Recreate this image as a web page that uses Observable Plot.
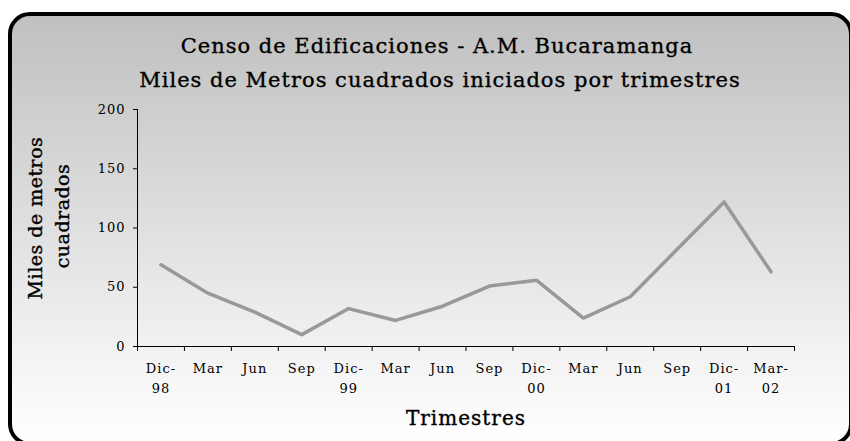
<!DOCTYPE html>
<html>
<head>
<meta charset="utf-8">
<script src="https://cdn.jsdelivr.net/npm/d3@7"></script>
<script src="https://cdn.jsdelivr.net/npm/@observablehq/plot@0.6"></script>
<style>
  html, body { margin: 0; padding: 0; background: #ffffff; }
  #wrap { position: relative; width: 850px; height: 441px; overflow: hidden; font-family: "DejaVu Serif", serif; color: #000; }
  #frame { position: absolute; left: 8px; top: 12px; width: 845px; height: 434px; box-sizing: border-box;
           border: 4.5px solid #000; border-radius: 22px;
           background: linear-gradient(to bottom, #c0c0c0 0%, #d6d6d6 35%, #f2f2f2 78%, #ffffff 100%); }
  .t { position: absolute; white-space: nowrap; transform: translate(-50%, -50%); -webkit-text-stroke: 0.35px #000; }
  #chart { position: absolute; left: 0; top: 0; }
</style>
</head>
<body>
<div id="wrap">
  <div id="frame"></div>
  <div id="chart"></div>
  <div class="t" id="title1" style="left:437px; top:46px; font-size:21px; letter-spacing:1px;"></div>
  <div class="t" id="title2" style="left:440px; top:80px; font-size:21px; letter-spacing:1px;"></div>
  <div class="t" id="ylab1" style="left:35px; top:218px; font-size:19px; letter-spacing:0.5px; transform: translate(-50%, -50%) rotate(-90deg);"></div>
  <div class="t" id="ylab2" style="left:62px; top:216px; font-size:19px; letter-spacing:0.5px; transform: translate(-50%, -50%) rotate(-90deg);"></div>
  <div class="t" id="xlab" style="left:466px; top:418px; font-size:20px; letter-spacing:1px;"></div>
</div>
<script>
const titleLines = ["Censo de Edificaciones - A.M. Bucaramanga", "Miles de Metros cuadrados iniciados por trimestres"];
const yTitleLines = ["Miles de metros", "cuadrados"];
const xTitle = "Trimestres";
const categories = ["Dic-\n98", "Mar", "Jun", "Sep", "Dic-\n99", "Mar", "Jun", "Sep", "Dic-\n00", "Mar", "Jun", "Sep", "Dic-\n01", "Mar-\n02"];
const values = [69, 45, 29, 10, 32, 22, 34, 51, 56, 24, 42, 82, 122, 63];
const yTicks = [0, 50, 100, 150, 200];

document.getElementById("title1").textContent = titleLines[0];
document.getElementById("title2").textContent = titleLines[1];
document.getElementById("ylab1").textContent = yTitleLines[0];
document.getElementById("ylab2").textContent = yTitleLines[1];
document.getElementById("xlab").textContent = xTitle;

const data = values.map((v, i) => ({i, v, c: categories[i]}));
const idx = categories.map((_, i) => i);
const bounds = categories.map((_, i) => i - 0.5).concat([categories.length - 0.5]);

const chart = Plot.plot({
  width: 850,
  height: 441,
  marginLeft: 137,
  marginRight: 56,
  marginTop: 109,
  marginBottom: 95,
  style: { background: "transparent", fontFamily: "DejaVu Serif, serif", fontSize: "12px", color: "#000" },
  x: { type: "linear", domain: [-0.5, categories.length - 0.5] },
  y: { domain: [0, 200] },
  marks: [
    Plot.axisY({ ticks: yTicks, tickSize: 4, tickPadding: 8, label: null, fontSize: 13, stroke: "#000" }),
    Plot.axisX({ ticks: bounds, tickSize: 5, tickFormat: () => "", label: null, stroke: "#000" }),
    Plot.axisX({ ticks: idx, tickSize: 0, tickPadding: 12, tickFormat: i => categories[i], label: null, fontSize: 13, lineHeight: 1.55 }),
    Plot.ruleX([-0.5], { stroke: "#000", strokeWidth: 1 }),
    Plot.ruleY([0], { stroke: "#000", strokeWidth: 1 }),
    Plot.line(data, { x: "i", y: "v", stroke: "#999999", strokeWidth: 3.5 })
  ]
});
chart.querySelectorAll("text").forEach(t => t.style.letterSpacing = "1px");
document.getElementById("chart").appendChild(chart);
</script>
</body>
</html>
